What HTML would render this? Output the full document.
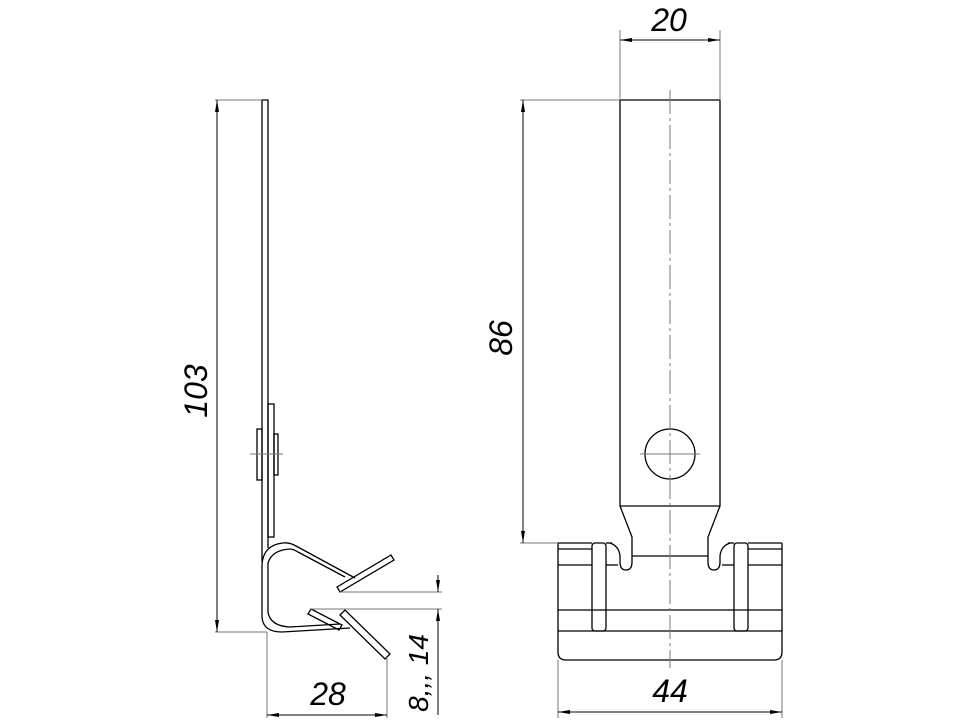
<!DOCTYPE html>
<html><head><meta charset="utf-8"><style>html,body{margin:0;padding:0;background:#fff}svg{display:block}</style></head><body>
<svg width="960" height="720" viewBox="0 0 960 720" xmlns="http://www.w3.org/2000/svg">
<defs>
<marker id="a" viewBox="0 0 12 4" refX="12" refY="2" markerWidth="12" markerHeight="4" markerUnits="userSpaceOnUse" orient="auto-start-reverse"><path d="M0,0 L12,2 L0,4 z" fill="#000"/></marker>
</defs>
<g fill="none" stroke="#000" stroke-width="1.3">
<!-- left view -->
<path d="M262,548 L262,100 L268,100 L268,548"/>
<rect x="268" y="404" width="6" height="133"/>
<rect x="257" y="429" width="5" height="51"/>
<rect x="274" y="434" width="4" height="41"/>
<path d="M262,548 Q262,560 262,562"/>
<path d="M283,543 Q263,545 262,565 L262,617 Q263,632 282,632 L350,628"/>
<path d="M283,543 Q289,542 296,546 L355,578"/>
<path d="M290,549 Q272,550 268,563 L268,612 Q270,626 290,627 L340,624"/>
<path d="M290,549 Q293,549 298,552 L345,577"/>
<path d="M337,587 L391,555 L394,560 L340,592 z"/>
<path d="M308,614 L311,609 L342,625 L339,630 z"/>
<path d="M340,615 L345,610 L390,654 L385,659 z"/>
<!-- right view -->
<path d="M620,100 L720,100 L720,506 L708,537 L708,562 Q708,570 714,570 Q720,570 720,562 L720,556 Q721,546 730,543"/>
<path d="M620,100 L620,506 L632,537 L632,562 Q632,570 626,570 Q620,570 620,562 L620,556 Q619,546 610,543"/>
<line x1="620" y1="506" x2="720" y2="506"/>
<line x1="632" y1="556" x2="708" y2="556"/>
<circle cx="670" cy="454" r="25"/>
<path d="M558,543 L558,652 Q558,660 566,660 L774,660 Q782,660 782,652 L782,543"/>
<line x1="558" y1="543" x2="592" y2="543"/><line x1="748" y1="543" x2="782" y2="543"/>
<line x1="606" y1="543" x2="612" y2="543"/><line x1="728" y1="543" x2="734" y2="543"/>
<line x1="558" y1="549" x2="592" y2="549"/><line x1="748" y1="549" x2="782" y2="549"/>
<line x1="558" y1="565" x2="592" y2="565"/><line x1="748" y1="565" x2="782" y2="565"/>
<line x1="606" y1="565" x2="618" y2="565"/><line x1="722" y1="565" x2="734" y2="565"/>
<line x1="558" y1="610" x2="782" y2="610"/>
<line x1="558" y1="631" x2="782" y2="631"/>
<rect x="592" y="543" width="14" height="88" rx="3"/>
<rect x="734" y="543" width="14" height="88" rx="3"/>
</g>
<g fill="none" stroke="#777" stroke-width="1">
<line x1="250" y1="454" x2="283" y2="454"/>
<line x1="670" y1="90" x2="670" y2="668" stroke-dasharray="24,4,3,4"/>
<line x1="640" y1="454" x2="700" y2="454"/>
<line x1="215" y1="100" x2="262" y2="100"/><line x1="215" y1="632" x2="267" y2="632"/>
<line x1="217" y1="100" x2="217" y2="632" stroke="#000" marker-start="url(#a)" marker-end="url(#a)"/>
<line x1="267" y1="632" x2="267" y2="718"/><line x1="387" y1="657" x2="387" y2="718"/>
<line x1="267" y1="715" x2="387" y2="715" stroke="#000" marker-start="url(#a)" marker-end="url(#a)"/>
<line x1="340" y1="592" x2="442" y2="592"/><line x1="310" y1="609" x2="442" y2="609"/>
<line x1="438" y1="575" x2="438" y2="592" stroke="#000" marker-end="url(#a)"/>
<line x1="438" y1="715" x2="438" y2="609" stroke="#000" marker-end="url(#a)"/>
<line x1="620" y1="30" x2="620" y2="100"/><line x1="720" y1="30" x2="720" y2="100"/>
<line x1="620" y1="40" x2="720" y2="40" stroke="#000" marker-start="url(#a)" marker-end="url(#a)"/>
<line x1="520" y1="100" x2="620" y2="100"/><line x1="520" y1="543" x2="558" y2="543"/>
<line x1="523" y1="100" x2="523" y2="543" stroke="#000" marker-start="url(#a)" marker-end="url(#a)"/>
<line x1="558" y1="660" x2="558" y2="718"/><line x1="782" y1="660" x2="782" y2="718"/>
<line x1="558" y1="712" x2="782" y2="712" stroke="#000" marker-start="url(#a)" marker-end="url(#a)"/>
</g>
<g font-family="Liberation Sans, sans-serif" font-style="italic" font-size="32" fill="#000" text-anchor="middle">
<text x="669" y="31">20</text>
<text x="670" y="702">44</text>
<text x="328" y="705">28</text>
<text transform="translate(207,391) rotate(-90)">103</text>
<text transform="translate(512,338) rotate(-90)">86</text>
<text font-size="28" transform="translate(428,673) rotate(-90)">8,,, 14</text>
</g>
</svg>
</body></html>
